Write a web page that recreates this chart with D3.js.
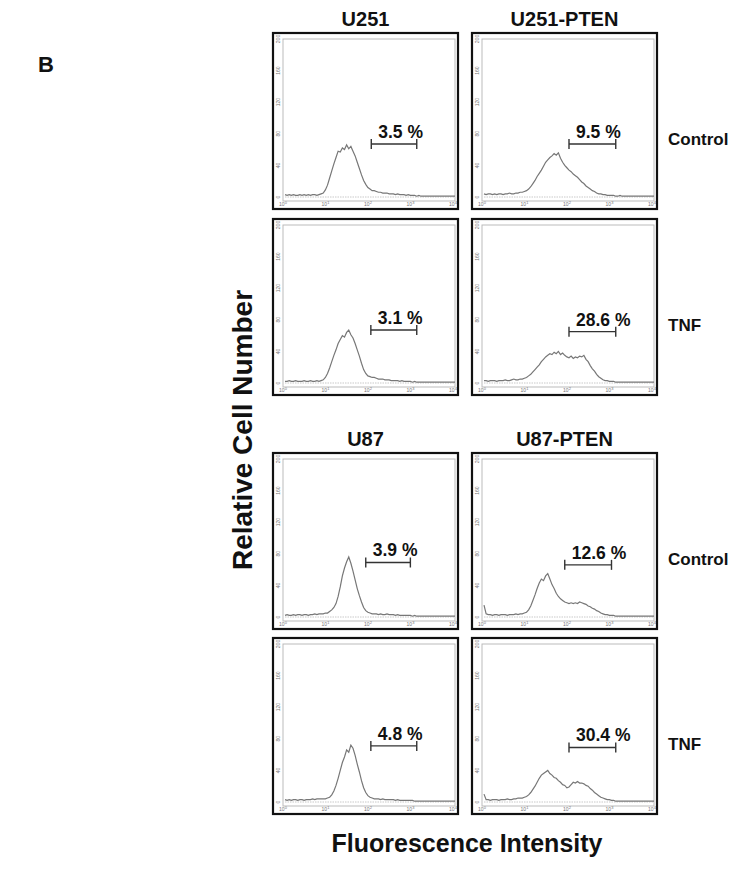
<!DOCTYPE html>
<html>
<head>
<meta charset="utf-8">
<script src="https://cdn.jsdelivr.net/npm/d3@7"></script>
<style>
  body { margin: 0; background: #fff; }
  svg { display: block; font-family: "Liberation Sans", Arial, sans-serif; }
  .title, .rowlab, .gatelab, .axlab, .panel-letter { font-weight: bold; fill: #111; }
  .tick { font-size: 5px; fill: #777; }
</style>
</head>
<body>
<svg id="fig" width="756" height="870"></svg>
<script>
// panel order: U251 Ctrl, U251-PTEN Ctrl, U251 TNF, U251-PTEN TNF, U87 Ctrl, U87-PTEN Ctrl, U87 TNF, U87-PTEN TNF
const cellLines = ['U251', 'U251-PTEN', 'U87', 'U87-PTEN'];
const treatments = ['Control', 'TNF', 'Control', 'TNF'];
const percents = ['3.5', '9.5', '3.1', '28.6', '3.9', '12.6', '4.8', '30.4'];
const gateStart = [2.03, 2.0, 2.02, 2.0, 1.9, 1.9, 2.02, 2.0];   // log10 fluorescence
const gateEnd = [3.1, 3.1, 3.1, 3.1, 2.95, 3.0, 3.1, 3.1];
const gateLevel = [67, 67, 67, 65, 69, 66, 71, 69];               // counts
const yTicks = [0, 40, 80, 120, 160, 200];
const xTicks = [0, 1, 2, 3, 4];

// counts per bin, bins every 0.05 decade from 10^0 to 10^4
const binStep = 0.05;
const tail = [1,2,1,1,1,1,1,1,1,1,1,1,1,1,1,1,1,1,1];
const h1 = [3,2,3,2,3,2,2,3,2,3,2,3,2,3,3,2,3,4,
  5,9,15,24,33,42,50,58,57,62,60,66,61,64,58,52,44,36,28,21,
  16,12,10,8,8,7,6,6,5,5,5,4,4,4,3,4,3,3,3,2,3,2,2,2].concat(tail);
const h2 = [4,3,4,4,3,4,3,4,4,3,4,4,5,4,4,5,5,6,
  6,7,8,10,13,17,21,26,30,34,39,44,47,50,52,55,53,56,49,44,
  40,37,34,32,29,27,25,22,19,17,14,12,10,8,7,5,4,4,3,3,2,2,2,2,
  1,1,2,1,1,1,1,1,1,1,1,1,1,1,1,1,1,1,1];
const h3 = [2,2,3,2,2,3,2,2,2,3,2,2,3,2,2,3,2,3,
  4,7,12,19,27,35,42,50,55,60,58,64,67,61,57,50,42,34,25,17,
  12,9,8,7,7,6,5,5,5,4,4,4,3,3,3,3,2,3,2,2,2,2,1,2,
  1,1,1,1,1,1,1,1,1,1,1,1,1,1,1,1,1,1,1];
const h4 = [3,3,2,3,3,3,2,3,3,3,4,3,3,4,5,4,4,5,
  5,6,7,9,11,14,17,20,23,27,30,33,35,37,36,39,37,40,36,38,
  35,33,32,34,31,33,32,34,33,35,30,27,22,18,15,11,8,6,4,3,3,2,2,2,
  1,1,1,1,1,1,1,1,1,1,1,1,1,1,1,1,1,1,1];
const h5 = [2,3,2,2,3,2,3,3,2,3,3,2,3,3,4,3,4,4,
  4,5,5,7,9,12,17,26,38,52,62,70,76,68,58,47,36,27,19,12,
  8,6,5,4,4,4,3,4,3,3,4,3,3,3,2,3,2,2,2,2,2,2,1,2,
  1,1,1,1,1,1,1,1,1,1,1,1,1,1,1,1,1,1,1];
const h6 = [15,4,3,3,2,3,3,2,3,3,3,2,3,3,3,4,3,4,
  4,5,6,9,14,21,28,36,43,48,46,52,55,48,41,36,30,26,23,21,
  19,18,17,18,17,18,17,19,18,17,16,14,13,11,10,8,7,5,4,3,3,2,2,2,
  1,1,1,1,1,1,1,1,1,1,1,1,1,1,1,1,1,1,1];
const h7 = [3,2,3,2,3,3,2,3,3,2,3,3,3,4,3,4,4,4,
  4,4,5,6,9,14,21,30,40,50,57,66,63,72,68,59,48,38,27,18,
  12,8,6,5,4,4,4,3,4,3,3,3,3,3,2,3,2,2,2,2,2,2,2,1,
  1,1,1,1,1,1,1,1,1,1,1,1,1,1,1,1,1,1,1];
const h8 = [10,3,3,2,3,3,3,2,3,3,3,4,3,3,4,4,5,5,
  5,6,7,9,12,16,20,25,30,34,36,38,40,36,34,31,30,27,25,22,
  21,18,19,22,25,24,26,24,24,23,21,20,17,15,12,10,8,6,5,4,3,3,2,2,
  1,1,1,1,1,1,1,1,1,1,1,1,1,1,1,1,1,1,1];
const histograms = [h1, h2, h3, h4, h5, h6, h7, h8];

const svg = d3.select('#fig');

const colX = [273, 472];
const rowY = [33, 219, 453, 638];
const pw = 185;
const ph = 176;

svg.append('text')
  .attr('class', 'panel-letter')
  .attr('x', 38)
  .attr('y', 72)
  .style('font-size', '22px')
  .text('B');

// column titles for the two cell-line groups
[0, 1].forEach(grp => {
  colX.forEach((cx, c) => {
    svg.append('text')
      .attr('class', 'title')
      .attr('x', cx + pw / 2)
      .attr('y', rowY[grp * 2] - 7)
      .attr('text-anchor', 'middle')
      .style('font-size', '20px')
      .text(cellLines[grp * 2 + c]);
  });
});

// row labels, level with the gate labels
rowY.forEach((ry, r) => {
  svg.append('text')
    .attr('class', 'rowlab')
    .attr('x', 668)
    .attr('y', ry + 112)
    .style('font-size', '17px')
    .text(treatments[r]);
});

histograms.forEach((counts, i) => {
  const px = colX[i % 2];
  const py = rowY[Math.floor(i / 2)];
  const g = svg.append('g');

  const x = d3.scaleLog().domain([1, 1e4]).range([px + 12, px + pw - 3]);
  const y = d3.scaleLinear().domain([0, 200]).range([py + ph - 12, py + 6]);

  // inner plot frame
  g.append('rect')
    .attr('x', px + 10).attr('y', py + 6)
    .attr('width', pw - 13).attr('height', ph - 14)
    .attr('fill', 'none').attr('stroke', '#bbb').attr('stroke-width', 1);

  // zero line
  g.append('line')
    .attr('x1', x(1)).attr('x2', x(1e4))
    .attr('y1', y(0)).attr('y2', y(0))
    .attr('stroke', '#bbb').attr('stroke-width', 0.8)
    .attr('stroke-dasharray', '1.5,1');

  // y tick labels (rotated)
  g.selectAll('.ytick')
    .data(yTicks)
    .enter()
    .append('text')
    .attr('class', 'tick')
    .attr('transform', d => `translate(${px + 7}, ${y(d)}) rotate(-90)`)
    .attr('text-anchor', 'middle')
    .text(d => d);

  // x tick labels 10^n
  const xt = g.selectAll('.xtick')
    .data(xTicks)
    .enter()
    .append('text')
    .attr('class', 'tick')
    .attr('x', d => x(Math.pow(10, d)) - 2)
    .attr('y', py + ph - 3)
    .attr('text-anchor', 'middle');
  xt.append('tspan').text('10');
  xt.append('tspan').attr('dy', -2).style('font-size', '4px').text(d => d);

  // histogram trace
  const line = d3.line()
    .x((d, k) => x(Math.pow(10, k * binStep)))
    .y(d => y(d));
  g.append('path')
    .datum(counts)
    .attr('d', line)
    .attr('fill', 'none')
    .attr('stroke', '#777')
    .attr('stroke-width', 1.2);

  // gate marker
  const gx1 = x(Math.pow(10, gateStart[i]));
  const gx2 = x(Math.pow(10, gateEnd[i]));
  const gy = y(gateLevel[i]);
  g.append('line')
    .attr('x1', gx1).attr('x2', gx2).attr('y1', gy).attr('y2', gy)
    .attr('stroke', '#333').attr('stroke-width', 1.4);
  [gx1, gx2].forEach(gx => {
    g.append('line')
      .attr('x1', gx).attr('x2', gx).attr('y1', gy - 5).attr('y2', gy + 5)
      .attr('stroke', '#333').attr('stroke-width', 1.4);
  });
  g.append('text')
    .attr('class', 'gatelab')
    .attr('x', gx1 + 7)
    .attr('y', gy - 6)
    .style('font-size', '17.5px')
    .text(`${percents[i]} %`);

  // outer box
  g.append('rect')
    .attr('x', px).attr('y', py)
    .attr('width', pw).attr('height', ph)
    .attr('fill', 'none').attr('stroke', '#111').attr('stroke-width', 2.2);
});

svg.append('text')
  .attr('class', 'axlab')
  .attr('transform', `translate(252, 430) rotate(-90)`)
  .attr('text-anchor', 'middle')
  .style('font-size', '28px')
  .text('Relative Cell Number');

svg.append('text')
  .attr('class', 'axlab')
  .attr('x', 467)
  .attr('y', 852)
  .attr('text-anchor', 'middle')
  .style('font-size', '25px')
  .text('Fluorescence Intensity');
</script>
</body>
</html>
